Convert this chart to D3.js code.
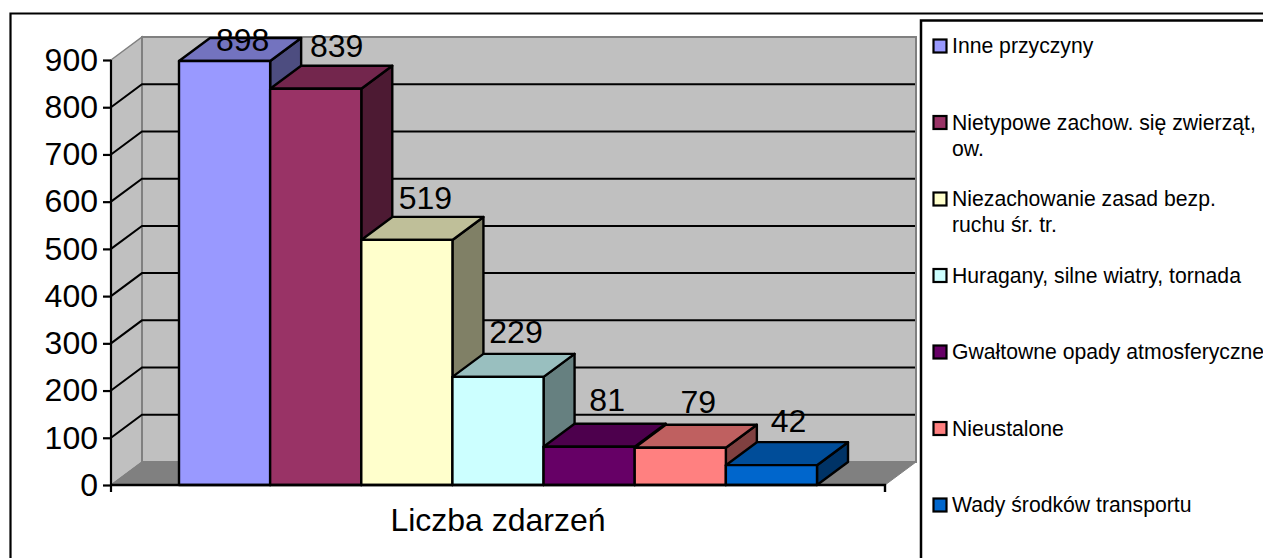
<!DOCTYPE html>
<html lang="pl"><head><meta charset="utf-8">
<style>html,body{margin:0;padding:0;background:#fff;overflow:hidden}svg{display:block}text{font-family:"Liberation Sans",Arial,sans-serif;fill:#000}</style>
<script src="https://cdnjs.cloudflare.com/ajax/libs/d3/7.8.5/d3.min.js"></script>
</head><body><svg id="c" width="1263" height="558"></svg>
<script>
const seriesNames = ["Inne przyczyny","Nietypowe zachow. się zwierząt,","Niezachowanie zasad bezp.","Huragany, silne wiatry, tornada","Gwałtowne opady atmosferyczne","Nieustalone","Wady środków transportu"];
const seriesSecondLine = ["","ow.","ruchu śr. tr.","","","",""];
const values = [898,839,519,229,81,79,42];
const colors = ["#9999FF","#993366","#FFFFCC","#CCFFFF","#660066","#FF8080","#0066CC"];
const yTicks = [0,100,200,300,400,500,600,700,800,900];
const category = "Liczba zdarzeń";

// layout
const depth = {x:31, y:-23};
const axisX = 111, axisRight = 885, axisBottom = 485, axisTop = 60;
const labelShift = [[18,-10],[21,-32],[18.5,-31],[18,-34],[18,-36],[18,-35],[17,-33]];
const bigFont = 32, legendFont = 21.2;

const y = d3.scaleLinear().domain([0,900]).range([axisBottom,axisTop]);
const x = d3.scaleBand().domain(seriesNames).range([179,817]);
const svg = d3.select("#c");
const poly = pts => pts.map(p=>p.join(",")).join(" ");

// outer frame
svg.append("path").attr("d","M10.5,560V13.5H1265").attr("fill","none").attr("stroke","#000").attr("stroke-width",2.2);

// walls
const wx = axisX+depth.x, wr = axisRight+depth.x;
svg.append("polygon").attr("points",poly([[axisX,y(900)],[wx,y(900)+depth.y],[wx,y(0)+depth.y],[axisX,y(0)]]))
  .attr("fill","#C0C0C0").attr("stroke","#808080").attr("stroke-width",1.5);
svg.append("rect").attr("x",wx).attr("y",y(900)+depth.y).attr("width",wr-wx).attr("height",y(0)-y(900))
  .attr("fill","#C0C0C0").attr("stroke","#808080").attr("stroke-width",2);
svg.append("polygon").attr("points",poly([[axisX,y(0)],[wx,y(0)+depth.y],[wr,y(0)+depth.y],[axisRight,y(0)]]))
  .attr("fill","#808080").attr("stroke","#808080");

// gridlines
const grid = yTicks.filter(v=>v>0&&v<900);
svg.append("g").selectAll("path").data(grid).join("path")
  .attr("d",v=>`M${axisX},${y(v)}L${wx},${y(v)+depth.y}H${wr-1}`)
  .attr("fill","none").attr("stroke","#000").attr("stroke-width",2);

// bars
const shade = (c,k)=>{const r=d3.rgb(c);return d3.rgb(r.r*k,r.g*k,r.b*k).formatHex();};
const bars = svg.append("g").selectAll("g").data(values).join("g")
  .attr("stroke","#000").attr("stroke-width",2.4).attr("stroke-linejoin","round");
bars.each(function(v,i){
  const g=d3.select(this), x0=x(seriesNames[i]), x1=x0+x.bandwidth(), t=y(v), b=y(0);
  g.append("polygon").attr("points",poly([[x1,t],[x1+depth.x,t+depth.y],[x1+depth.x,b+depth.y],[x1,b]])).attr("fill",shade(colors[i],.5));
  g.append("polygon").attr("points",poly([[x0,t],[x0+depth.x,t+depth.y],[x1+depth.x,t+depth.y],[x1,t]])).attr("fill",shade(colors[i],.75));
  g.append("rect").attr("x",x0).attr("y",t).attr("width",x1-x0).attr("height",b-t).attr("fill",colors[i]);
});

// axes
const gy = svg.append("g").attr("transform",`translate(${axisX},0)`)
  .call(d3.axisLeft(y).tickValues(yTicks).tickSize(8).tickPadding(5).tickFormat(d3.format("d")));
gy.select(".domain").remove();
gy.selectAll("line").attr("stroke","#000").attr("stroke-width",2.2);
gy.selectAll("text").attr("font-size",bigFont).attr("font-family",'"Liberation Sans"').attr("fill","#000");
svg.append("path").attr("d",`M${axisX},${axisTop}V${axisBottom+7}`).attr("stroke","#000").attr("stroke-width",2.2);
svg.append("path").attr("d",`M${axisX},${axisBottom}H${axisRight}V${axisBottom+7}`).attr("fill","none").attr("stroke","#000").attr("stroke-width",2.4);

// value labels
svg.append("g").selectAll("text").data(values).join("text")
  .attr("x",(v,i)=>x(seriesNames[i])+x.bandwidth()/2+labelShift[i][0])
  .attr("y",(v,i)=>y(v)+labelShift[i][1])
  .attr("text-anchor","middle").attr("font-size",bigFont).text(v=>v);

// category
svg.append("text").attr("x",498).attr("y",531).attr("text-anchor","middle").attr("font-size",bigFont).text(category);

// legend
svg.append("path").attr("d","M921,560V20.5H1265").attr("fill","none").attr("stroke","#000").attr("stroke-width",2.5);
const legendY = d3.scalePoint().domain(seriesNames).range([46,505]);
const leg = svg.append("g").selectAll("g").data(seriesNames).join("g")
  .attr("transform",d=>`translate(0,${legendY(d)})`);
leg.append("rect").attr("x",933.5).attr("y",-6.5).attr("width",13).attr("height",13)
  .attr("fill",(d,i)=>colors[i]).attr("stroke","#000").attr("stroke-width",2.2);
leg.append("text").attr("x",952).attr("y",7).attr("font-size",legendFont).text(d=>d);
leg.append("text").attr("x",952).attr("y",33).attr("font-size",legendFont).text((d,i)=>seriesSecondLine[i]);
</script></body></html>
